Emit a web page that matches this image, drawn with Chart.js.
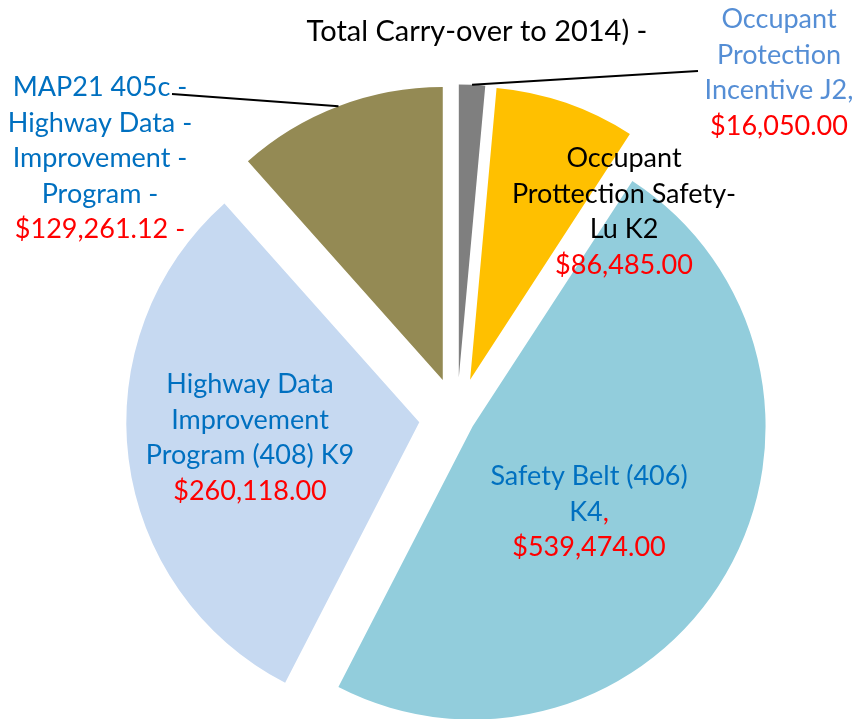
<!DOCTYPE html>
<html>
<head>
<meta charset="utf-8">
<title>Carry-over to 2014</title>
<script src="https://cdn.jsdelivr.net/npm/chart.js@4.4.1/dist/chart.umd.min.js"></script>
<style>
  html, body { margin: 0; padding: 0; background: #fff; }
  #wrap { width: 856px; height: 719px; }
</style>
</head>
<body>
<div id="wrap"><canvas id="pieChart"></canvas></div>
<script>
// slices run clockwise from 12 o'clock
const categories = ['J2', 'K2', 'K4', 'K9', 'MAP21 405c'];
// share of the pie (%) per slice
const sliceShare = [1.44, 7.74, 48.39, 30.85, 11.58];
// amounts as printed in the labels
const amounts = ['$16,050.00', '$86,485.00', '$539,474.00', '$260,118.00', '$129,261.12 -'];
// label text above the amount
const labelNames = [
    ['Occupant', 'Protection', 'Incentive J2,'],
    ['Occupant', 'Prottection Safety-', 'Lu K2'],
    ['Safety Belt (406)', 'K4'],
    ['Highway Data', 'Improvement', 'Program (408) K9'],
    ['MAP21 405c -', 'Highway Data -', 'Improvement -', 'Program -']
];
// red bit stuck on the end of the last name line
const nameTails = ['', '', ',', '', ''];
const titleText = 'Total Carry-over to 2014) -';

// styles
const sliceColors = ['#7F7F7F', '#FFC000', '#92CDDC', '#C6D9F1', '#948A54'];
const explode = [40, 40, 18, 38, 40];            // px each slice is pulled out
const nameColors = ['#558ED5', '#000000', '#0070C0', '#0070C0', '#0070C0'];
const amountColor = '#FF0000';
const labelAnchor = [                            // centre x, first baseline
    { x: 779, y: 28 },
    { x: 624, y: 167 },
    { x: 589, y: 485 },
    { x: 250, y: 393 },
    { x: 100, y: 96 }
];
const leaderEnds = [{ x: 698, y: 71 }, null, null, null, { x: 172, y: 94 }];
const lineGap = 35.6;
const fontFamily = 'Lato, "Open Sans", sans-serif';
const labelSize = 27;
const titleSize = 29;

// pull slices away from the centre along their middle angle
const explodePlugin = {
    id: 'explode',
    afterDatasetUpdate(chart, args) {
        const area = chart.chartArea;
        const cx = (area.left + area.right) / 2;
        const cy = (area.top + area.bottom) / 2;
        chart.getDatasetMeta(args.index).data.forEach((arc, i) => {
            const mid = (arc.startAngle + arc.endAngle) / 2;
            arc.x = cx + Math.cos(mid) * explode[i];
            arc.y = cy + Math.sin(mid) * explode[i];
        });
    }
};

function drawSegments(ctx, segs, cx, y) {
    const widths = segs.map(s => ctx.measureText(s.text).width);
    let x = cx - widths.reduce((a, b) => a + b, 0) / 2;
    segs.forEach((s, k) => {
        ctx.fillStyle = s.color;
        ctx.fillText(s.text, x, y);
        x += widths[k];
    });
}

const labelPlugin = {
    id: 'sliceLabels',
    afterDraw(chart) {
        const ctx = chart.ctx;
        const arcs = chart.getDatasetMeta(0).data;
        ctx.save();
        ctx.textAlign = 'left';
        ctx.textBaseline = 'alphabetic';

        // leader lines from the slice edge to the label
        ctx.strokeStyle = '#000';
        ctx.lineWidth = 2;
        leaderEnds.forEach((end, i) => {
            if (!end) return;
            const a = arcs[i];
            const mid = (a.startAngle + a.endAngle) / 2;
            ctx.beginPath();
            ctx.moveTo(a.x + Math.cos(mid) * a.outerRadius, a.y + Math.sin(mid) * a.outerRadius);
            ctx.lineTo(end.x, end.y);
            ctx.stroke();
        });

        ctx.font = titleSize + 'px ' + fontFamily;
        drawSegments(ctx, [{ text: titleText, color: '#000' }], 477, 41);

        ctx.font = labelSize + 'px ' + fontFamily;
        labelNames.forEach((names, i) => {
            const pos = labelAnchor[i];
            names.forEach((line, k) => {
                const segs = [{ text: line, color: nameColors[i] }];
                if (k === names.length - 1 && nameTails[i]) segs.push({ text: nameTails[i], color: amountColor });
                drawSegments(ctx, segs, pos.x, pos.y + k * lineGap);
            });
            drawSegments(ctx, [{ text: amounts[i], color: amountColor }], pos.x, pos.y + names.length * lineGap);
        });
        ctx.restore();
    }
};

const ctx = document.getElementById('pieChart').getContext('2d');
const pieChart = new Chart(ctx, {
    type: 'pie',
    data: {
        labels: categories,
        datasets: [{
            data: sliceShare,
            backgroundColor: sliceColors,
            borderWidth: 0
        }]
    },
    options: {
        responsive: true,
        maintainAspectRatio: false,
        animation: false,
        events: [],
        radius: 293,
        layout: { padding: { left: 58, top: 116, right: 0, bottom: 0 } },
        plugins: {
            legend: { display: false },
            tooltip: { enabled: false }
        }
    },
    plugins: [explodePlugin, labelPlugin]
});
</script>
</body>
</html>
